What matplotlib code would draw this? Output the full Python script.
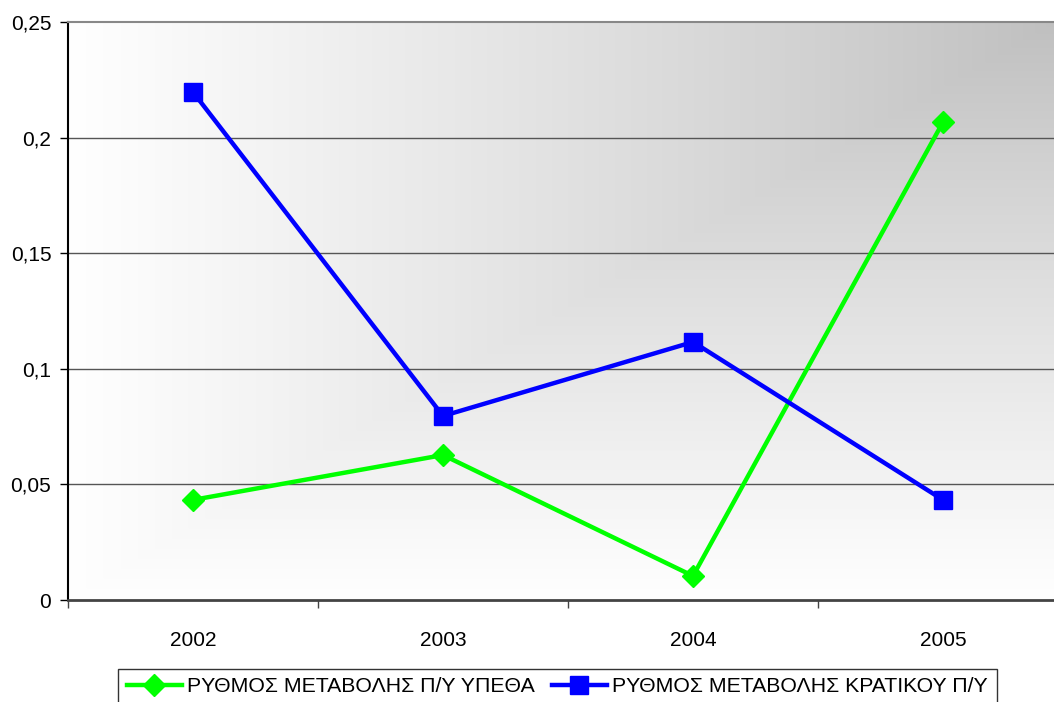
import numpy as np
import matplotlib.pyplot as plt

years = ['2002', '2003', '2004', '2005']
ypetha = [0.0433, 0.0627, 0.0104, 0.2067]
kratikou = [0.2197, 0.0796, 0.1116, 0.0433]
yticks = [0, 0.05, 0.1, 0.15, 0.2, 0.25]
ytick_labels = ['0', '0,05', '0,1', '0,15', '0,2', '0,25']

plt.rcParams['font.family'] = ['Liberation Sans', 'DejaVu Sans']

fig = plt.figure(figsize=(10.54, 7.02), dpi=100)
ax = fig.add_axes([68 / 1054, 102 / 702, 986 / 1054, 578 / 702])

# "from corner" gradient: grey in the top-right corner, white towards left and bottom
gx, gy = np.meshgrid(np.linspace(0, 1, 400), np.linspace(0, 1, 300))
t = np.maximum(1 - gx, 1 - gy)
grey = 0.75 + 0.25 * np.clip(t, 0, 1) ** 0.9
img = np.dstack([grey, grey, grey])
ax.imshow(img, extent=[0, 1, 0, 1], transform=ax.transAxes, origin='lower',
          aspect='auto', zorder=0, interpolation='bilinear')

x = np.arange(len(years))
ax.plot(x, ypetha, color='#00ff00', lw=3.2, marker='D', ms=11,
        label='ΡΥΘΜΟΣ ΜΕΤΑΒΟΛΗΣ Π/Υ ΥΠΕΘΑ', zorder=3)
ax.plot(x, kratikou, color='#0000ff', lw=3.2, marker='s', ms=13,
        label='ΡΥΘΜΟΣ ΜΕΤΑΒΟΛΗΣ ΚΡΑΤΙΚΟΥ Π/Υ', zorder=3)

ax.set_xlim(-0.5, 3.444)
ax.set_ylim(0, 0.25)
ax.set_yticks(yticks)
ax.set_yticklabels(ytick_labels)
ax.set_xticks(x)
ax.set_xticklabels(years)
ax.set_xticks(np.arange(-0.5, 3.5, 1), minor=True)
ax.tick_params(axis='x', which='major', length=0, pad=22, labelsize=15)
ax.tick_params(axis='x', which='minor', length=6, width=1, color='#444444', direction='out')
ax.tick_params(axis='y', length=6, width=1, direction='out', pad=6, labelsize=15)

for v in yticks[1:-1]:
    ax.axhline(v, color='#555555', lw=1, zorder=1)

ax.spines['top'].set_color('#888888')
ax.spines['top'].set_linewidth(1.5)
ax.spines['right'].set_visible(False)
ax.spines['left'].set_color('black')
ax.spines['left'].set_linewidth(1.5)
ax.spines['bottom'].set_color('#444444')
ax.spines['bottom'].set_linewidth(2)

leg = fig.legend(loc='upper left', bbox_to_anchor=(118 / 1054, 1 - 669 / 702), ncol=2,
                 frameon=True, fancybox=False, edgecolor='black', fontsize=15.3,
                 handlelength=2.6, handletextpad=0.25, columnspacing=0.8,
                 borderpad=0.4, borderaxespad=0)
leg.get_frame().set_linewidth(1)

fig.savefig('out.png', dpi=100)
